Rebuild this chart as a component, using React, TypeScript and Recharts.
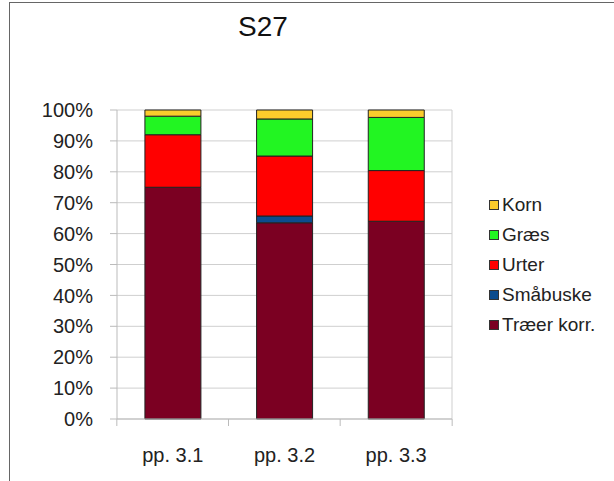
import { BarChart, Bar, XAxis, YAxis, CartesianGrid } from 'recharts';

const categories = ['pp. 3.1', 'pp. 3.2', 'pp. 3.3'];
const traer = [75, 63.5, 64];
const smabuske = [0, 2.2, 0];
const urter = [17, 19.4, 16.4];
const graes = [6, 12, 17.2];
const korn = [2, 2.9, 2.4];
const yTicks = [0, 0.1, 0.2, 0.3, 0.4, 0.5, 0.6, 0.7, 0.8, 0.9, 1];

const series = [
  { key: 'traer', name: 'Træer korr.', color: '#7b0022' },
  { key: 'smabuske', name: 'Småbuske', color: '#0b4c8e' },
  { key: 'urter', name: 'Urter', color: '#ff0000' },
  { key: 'graes', name: 'Græs', color: '#22f522' },
  { key: 'korn', name: 'Korn', color: '#fbcc2c' },
];

const data = categories.map((c, i) => ({
  name: c,
  traer: traer[i],
  smabuske: smabuske[i],
  urter: urter[i],
  graes: graes[i],
  korn: korn[i],
}));

const FONT = '"Liberation Sans", Arial, sans-serif';

// tick marks sit between categories, labels under the centre
const XTick = (props: any) => {
  const { x, y, payload, index } = props;
  const half = 56;
  return (
    <g>
      <line x1={x - half} y1={y - 8} x2={x - half} y2={y - 1} stroke="#bbb" />
      {index === categories.length - 1 && (
        <line x1={x + half} y1={y - 8} x2={x + half} y2={y - 1} stroke="#bbb" />
      )}
      <text x={x} y={y + 35} textAnchor="middle" fontSize={20} fill="#222" fontFamily={FONT}>
        {payload.value}
      </text>
    </g>
  );
};

const LegendBox = () => (
  <div style={{ position: 'absolute', left: 489, top: 190, fontFamily: FONT, fontSize: 19, color: '#222' }}>
    {[...series].reverse().map(s => (
      <div key={s.key} style={{ display: 'flex', alignItems: 'center', height: 30 }}>
        <div style={{ width: 8, height: 8, background: s.color, border: '1px solid #333', marginRight: 3 }} />
        <span>{s.name}</span>
      </div>
    ))}
  </div>
);

export default function App() {
  return (
    <div style={{ position: 'absolute', left: 0, top: 0, width: 614, height: 481, background: '#fff' }}>
      <div style={{ position: 'absolute', left: 9, top: 2, width: 610, height: 490, borderLeft: '1px solid #666', borderTop: '1px solid #666' }} />
      <div style={{ position: 'absolute', left: 0, width: 526, top: 11, textAlign: 'center', fontFamily: FONT, fontSize: 28, color: '#111' }}>
        S27
      </div>
      <div style={{ position: 'absolute', left: 0, top: 0 }}>
        <BarChart
          width={614}
          height={481}
          data={data}
          stackOffset="expand"
          barCategoryGap="25%"
          margin={{ top: 110, right: 162, bottom: 22, left: 57 }}
        >
          <CartesianGrid
            stroke="#cfcfcf"
            verticalCoordinatesGenerator={({ offset }: any) => [offset.left + offset.width]}
          />
          <XAxis
            dataKey="name"
            height={40}
            axisLine={{ stroke: '#bbb' }}
            tickLine={false}
            tick={<XTick />}
            interval={0}
          />
          <YAxis
            width={60}
            domain={[0, 1]}
            ticks={yTicks}
            tickFormatter={(v: number) => `${Math.round(v * 100)}%`}
            axisLine={{ stroke: '#bbb' }}
            tickLine={{ stroke: '#bbb' }}
            tickSize={7}
            tickMargin={17}
            tick={{ fontSize: 20, fill: '#222', fontFamily: FONT }}
          />
          {series.map(s => (
            <Bar
              key={s.key}
              dataKey={s.key}
              name={s.name}
              stackId="a"
              fill={s.color}
              stroke="#222"
              strokeWidth={1}
              isAnimationActive={false}
            />
          ))}
        </BarChart>
      </div>
      <LegendBox />
    </div>
  );
}
